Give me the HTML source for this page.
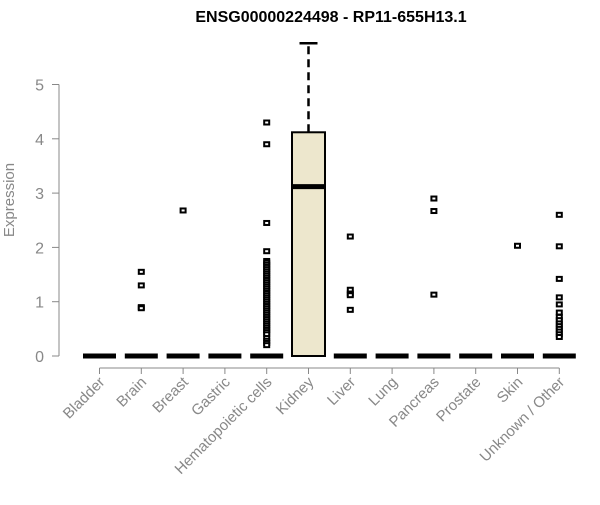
<!DOCTYPE html>
<html><head><meta charset="utf-8"><style>body{margin:0;background:#fff}svg{font-family:"Liberation Sans",Arial,sans-serif}</style></head>
<body>
<svg id="c" width="600" height="500"></svg>
<script>
const categories=["Bladder","Brain","Breast","Gastric","Hematopoietic cells","Kidney","Liver","Lung","Pancreas","Prostate","Skin","Unknown / Other"];
const q1=[0,0,0,0,0,0,0,0,0,0,0,0];
const medians=[0,0,0,0,0,3.12,0,0,0,0,0,0];
const q3=[0,0,0,0,0,4.12,0,0,0,0,0,0];
const whiskerLow=[0,0,0,0,0,0,0,0,0,0,0,0];
const whiskerHigh=[0,0,0,0,0,5.76,0,0,0,0,0,0];
const outliers=[[],[1.55,1.3,0.9,0.88],[2.68],[],[4.3,3.9,2.45,1.93,1.75,1.72,1.68,1.64,1.6,1.56,1.52,1.48,1.44,1.4,1.36,1.32,1.28,1.24,1.2,1.16,1.12,1.08,1.04,1.0,0.96,0.92,0.88,0.84,0.8,0.76,0.72,0.68,0.64,0.6,0.56,0.52,0.48,0.44,0.4,0.33,0.28,0.24,0.2],[],[2.2,1.22,1.15,1.12,0.85],[],[2.9,2.67,1.13],[],[2.03],[2.6,2.02,1.42,1.08,0.95,0.8,0.72,0.66,0.6,0.55,0.5,0.45,0.4,0.35]];
const yTicks=[0,1,2,3,4,5];
const svg=document.getElementById('c');const NS='http://www.w3.org/2000/svg';
function y(v){return 356-v*54.3}
function x(i){return 99.5+i*41.8}
function mk(t,a,p){const e=document.createElementNS(NS,t);for(const k in a)e.setAttribute(k,a[k]);(p||svg).appendChild(e);return e}
const title=mk('text',{x:331,y:22,'text-anchor':'middle','font-size':16,'font-weight':'bold'});


title.textContent='ENSG00000224498 - RP11-655H13.1';
const yl=mk('text',{x:0,y:0,transform:'translate(14,200) rotate(-90)','text-anchor':'middle','font-size':15,fill:'#888'});


yl.textContent='Expression';
const ya=mk('line',{x1:59,x2:59,y1:y(0),y2:y(5),stroke:'#888'});


yTicks.forEach(v=>{const l=mk('line',{x1:52,x2:59,y1:y(v),y2:y(v),stroke:'#888'});


const t=mk('text',{x:44,y:y(v)+6,'text-anchor':'end','font-size':16,fill:'#888'});


t.textContent=v;});
const xa=mk('line',{x1:x(0),x2:x(11),y1:368,y2:368,stroke:'#888'});


categories.forEach((c,i)=>{const cx=x(i);
const tk=mk('line',{x1:cx,x2:cx,y1:368,y2:374,stroke:'#888'});


const t=mk('text',{x:0,y:0,transform:`translate(${cx+6},383) rotate(-45)`,'text-anchor':'end','font-size':15,fill:'#888'});


t.textContent=c;
const g=mk('g',{});


if(whiskerHigh[i]>q3[i]){mk('line',{x1:cx,x2:cx,y1:y(q3[i]),y2:y(whiskerHigh[i]),stroke:'#000','stroke-width':2.5,'stroke-dasharray':'8,5'},g);
mk('line',{x1:cx-9,x2:cx+9,y1:y(whiskerHigh[i]),y2:y(whiskerHigh[i]),stroke:'#000','stroke-width':2.5},g);}
if(q3[i]>q1[i])mk('rect',{x:cx-16.5,y:y(q3[i]),width:33,height:y(q1[i])-y(q3[i]),fill:'#ede7cd',stroke:'#000','stroke-width':2},g);
mk('line',{x1:cx-16.5,x2:cx+16.5,y1:y(medians[i]),y2:y(medians[i]),stroke:'#000','stroke-width':5},g);
outliers[i].forEach(v=>{const p=mk('rect',{x:cx-2.5,y:y(v)-2,width:5,height:4,fill:'#fff',stroke:'#000','stroke-width':2},g);

});
});
</script>
</body></html>
